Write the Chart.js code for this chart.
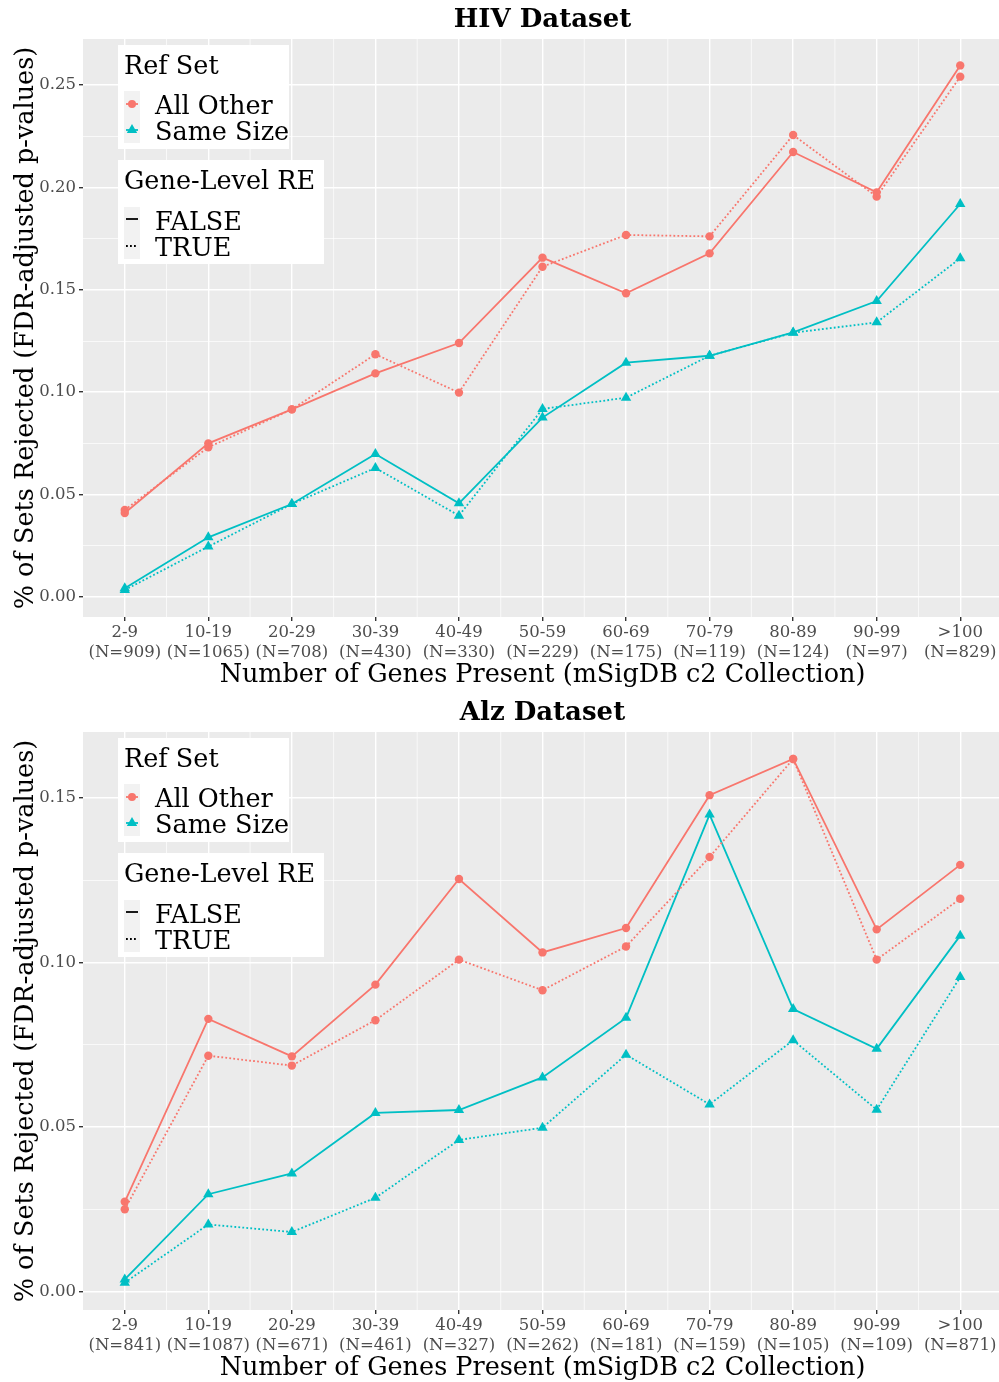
<!DOCTYPE html>
<html>
<head>
<meta charset="utf-8">
<script src="https://cdn.jsdelivr.net/npm/chart.js@4"></script>
<style>
html, body { margin: 0; padding: 0; background: #fff; overflow: hidden; }
#wrap { width: 999px; height: 1382px; overflow: hidden; }
canvas { display: block; }
</style>
</head>
<body>
<div id="wrap">
<canvas id="hiv" width="1002" height="693"></canvas>
<canvas id="alz" width="1002" height="689"></canvas>
</div>
<script>
// gene-set size bins
var groups = ['2-9', '10-19', '20-29', '30-39', '40-49', '50-59', '60-69', '70-79', '80-89', '90-99', '>100'];
var hivCounts = [909, 1065, 708, 430, 330, 229, 175, 119, 124, 97, 829];
var alzCounts = [841, 1087, 671, 461, 327, 262, 181, 159, 105, 109, 871];

// HIV dataset
var hivAllOtherFalse = [0.041, 0.075, 0.0916, 0.1092, 0.124, 0.1657, 0.1483, 0.1678, 0.2173, 0.1976, 0.2596];
var hivAllOtherTrue  = [0.0425, 0.0731, 0.0916, 0.1185, 0.0998, 0.1613, 0.1768, 0.1761, 0.2256, 0.1955, 0.2541];
var hivSameSizeFalse = [0.0042, 0.0291, 0.0454, 0.0698, 0.0457, 0.0876, 0.1144, 0.1178, 0.1292, 0.1445, 0.1919];
var hivSameSizeTrue  = [0.0034, 0.0246, 0.0454, 0.063, 0.0397, 0.0918, 0.0973, 0.1178, 0.1290, 0.1341, 0.1654];

// Alz dataset
var alzAllOtherFalse = [0.0273, 0.0829, 0.0715, 0.0933, 0.1254, 0.1031, 0.1105, 0.1509, 0.1619, 0.1101, 0.1297];
var alzAllOtherTrue  = [0.025, 0.0717, 0.0687, 0.0825, 0.1009, 0.0916, 0.1049, 0.1321, 0.1619, 0.1009, 0.1194];
var alzSameSizeFalse = [0.0037, 0.0296, 0.0359, 0.0543, 0.0552, 0.0651, 0.0832, 0.145, 0.0859, 0.0738, 0.1082];
var alzSameSizeTrue  = [0.0027, 0.0204, 0.0181, 0.0285, 0.0461, 0.0498, 0.072, 0.0569, 0.0764, 0.0553, 0.0956];

var RED = '#F8766D';
var CYAN = '#00BFC4';
var FONT = '"DejaVu Serif"';
var DOTS = [1.8, 2.2];

function isMajor(v) {
    return Math.abs(v * 20 - Math.round(v * 20)) < 1e-6;
}

function drawLegend(chart) {
    var a = chart.chartArea, ctx = chart.ctx;
    var L = a.left, T = a.top;
    ctx.save();
    ctx.fillStyle = '#ffffff';
    ctx.fillRect(L + 35, T + 6, 171, 104);
    ctx.fillRect(L + 35, T + 121, 206, 104);
    ctx.fillStyle = '#F2F2F2';
    ctx.fillRect(L + 41, T + 52, 16, 52);
    ctx.fillRect(L + 41, T + 168, 16, 52);

    ctx.fillStyle = '#000000';
    ctx.font = '25.5px ' + FONT;
    ctx.textBaseline = 'alphabetic';
    ctx.textAlign = 'left';
    ctx.fillText('Ref Set', L + 41, T + 35);
    ctx.fillText('All Other', L + 72, T + 75);
    ctx.fillText('Same Size', L + 72, T + 101);
    ctx.fillText('Gene-Level RE', L + 41, T + 150);
    ctx.fillText('FALSE', L + 72, T + 191);
    ctx.fillText('TRUE', L + 72, T + 217);

    // point keys
    var cx = L + 49;
    ctx.lineWidth = 1.8;
    ctx.strokeStyle = RED;
    ctx.beginPath(); ctx.moveTo(cx - 6, T + 65); ctx.lineTo(cx + 6, T + 65); ctx.stroke();
    ctx.fillStyle = RED;
    ctx.beginPath(); ctx.arc(cx, T + 65, 4, 0, Math.PI * 2); ctx.fill();
    ctx.strokeStyle = CYAN;
    ctx.beginPath(); ctx.moveTo(cx - 6, T + 91); ctx.lineTo(cx + 6, T + 91); ctx.stroke();
    ctx.fillStyle = CYAN;
    ctx.beginPath();
    ctx.moveTo(cx, T + 91 - 6);
    ctx.lineTo(cx + 5.2, T + 91 + 3);
    ctx.lineTo(cx - 5.2, T + 91 + 3);
    ctx.closePath(); ctx.fill();

    // line type keys
    ctx.strokeStyle = '#000000';
    ctx.beginPath(); ctx.moveTo(cx - 6, T + 180); ctx.lineTo(cx + 6, T + 180); ctx.stroke();
    ctx.setLineDash(DOTS);
    ctx.beginPath(); ctx.moveTo(cx - 6, T + 207); ctx.lineTo(cx + 6, T + 207); ctx.stroke();
    ctx.restore();
}

var panelPlugin = {
    id: 'panel',
    beforeDraw: function(chart) {
        var a = chart.chartArea, ctx = chart.ctx;
        ctx.save();
        ctx.fillStyle = '#EBEBEB';
        ctx.fillRect(a.left, a.top, a.right - a.left, a.bottom - a.top);
        ctx.restore();
    },
    beforeDatasetsDraw: function(chart) {
        var a = chart.chartArea, ctx = chart.ctx, x = chart.scales.x;
        ctx.save();
        ctx.strokeStyle = '#ffffff';
        ctx.lineWidth = 0.7;
        for (var i = 0; i < groups.length - 1; i++) {
            var px = (x.getPixelForValue(i) + x.getPixelForValue(i + 1)) / 2;
            ctx.beginPath(); ctx.moveTo(px, a.top); ctx.lineTo(px, a.bottom); ctx.stroke();
        }
        ctx.restore();
    },
    afterDraw: function(chart) {
        drawLegend(chart);
    }
};

function series(label, values, color, style, dotted) {
    return {
        label: label,
        data: values,
        borderColor: color,
        backgroundColor: color,
        borderWidth: 1.8,
        borderDash: dotted ? DOTS : [],
        pointStyle: style,
        pointRadius: style === 'triangle' ? 6 : 4.2,
        pointBorderWidth: 0,
        tension: 0
    };
}

function makeChart(id, title, counts, data, yMin, yMax, xHeight, xTitlePad) {
    return new Chart(document.getElementById(id), {
        type: 'line',
        data: {
            labels: groups.map(function(g, i) { return [g, '(N=' + counts[i] + ')']; }),
            datasets: [
                series('All Other FALSE', data[0], RED, 'circle', false),
                series('All Other TRUE', data[1], RED, 'circle', true),
                series('Same Size FALSE', data[2], CYAN, 'triangle', false),
                series('Same Size TRUE', data[3], CYAN, 'triangle', true)
            ]
        },
        options: {
            animation: false,
            responsive: false,
            events: [],
            layout: { padding: 0, autoPadding: false },
            plugins: {
                legend: { display: false },
                tooltip: { enabled: false },
                title: {
                    display: true,
                    text: title,
                    fullSize: false,
                    color: '#000000',
                    font: { family: FONT, size: 26, weight: 'bold', lineHeight: 1.2 },
                    padding: { top: 5, bottom: 2.8 }
                }
            },
            scales: {
                x: {
                    type: 'category',
                    offset: true,
                    border: { display: false },
                    grid: { color: '#ffffff', lineWidth: 1.4, tickColor: '#333333', tickLength: 4, offset: false },
                    ticks: {
                        color: '#4D4D4D',
                        padding: 1,
                        maxRotation: 0,
                        autoSkip: false,
                        font: { family: FONT, size: 16.5, lineHeight: 1.26 }
                    },
                    title: {
                        display: true,
                        text: 'Number of Genes Present (mSigDB c2 Collection)',
                        color: '#000000',
                        font: { family: FONT, size: 25.5, lineHeight: 1.0 },
                        padding: { top: 0, bottom: xTitlePad }
                    },
                    afterFit: function(scale) { scale.height = xHeight; }
                },
                y: {
                    type: 'linear',
                    min: yMin,
                    max: yMax,
                    border: { display: false },
                    grid: {
                        color: '#ffffff',
                        lineWidth: function(c) { return isMajor(c.tick.value) ? 1.4 : 0.7; },
                        tickColor: function(c) { return isMajor(c.tick.value) ? '#333333' : 'rgba(0,0,0,0)'; },
                        tickLength: 4
                    },
                    ticks: {
                        stepSize: 0.025,
                        includeBounds: false,
                        autoSkip: false,
                        color: '#4D4D4D',
                        padding: 3,
                        font: { family: FONT, size: 16.5 },
                        callback: function(v) { return isMajor(v) ? v.toFixed(2) : ''; }
                    },
                    title: {
                        display: true,
                        text: '% of Sets Rejected (FDR-adjusted p-values)',
                        color: '#000000',
                        font: { family: FONT, size: 25.5, lineHeight: 1.2 },
                        padding: { top: 11.5, bottom: 0 }
                    },
                    afterFit: function(scale) { scale.width = 83; }
                }
            }
        },
        plugins: [panelPlugin]
    });
}

makeChart('hiv', 'HIV Dataset', hivCounts,
    [hivAllOtherFalse, hivAllOtherTrue, hivSameSizeFalse, hivSameSizeTrue],
    -0.0098, 0.2725, 76, 5.2);
makeChart('alz', 'Alz Dataset', alzCounts,
    [alzAllOtherFalse, alzAllOtherTrue, alzSameSizeFalse, alzSameSizeTrue],
    -0.0056, 0.1701, 72, 0.9);
</script>
</body>
</html>
